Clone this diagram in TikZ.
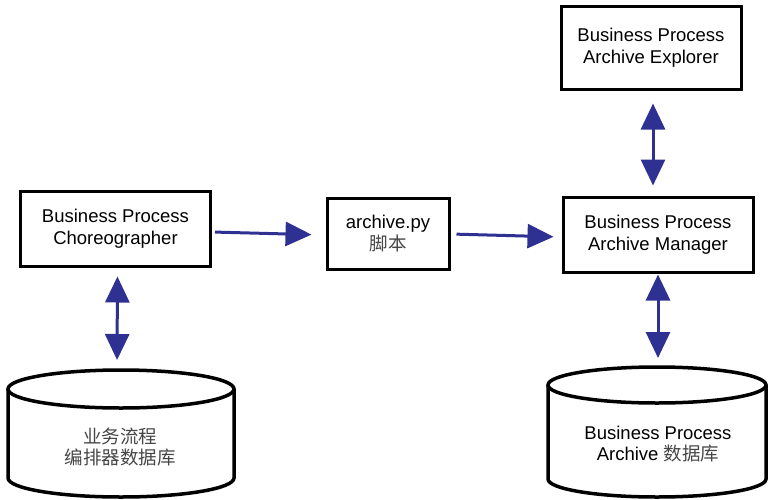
\documentclass[tikz,border=0pt]{standalone}
\usepackage{fontspec}
\setmainfont{Liberation Sans}
\newfontfamily\cjk{Noto Sans CJK SC}
\usetikzlibrary{arrows.meta}
\definecolor{arrblue}{RGB}{46,49,146}
\definecolor{cjkgray}{RGB}{70,70,70}
\tikzset{
  box/.style={draw=black, line width=3pt, fill=white, align=center, inner sep=0pt,
    font=\fontsize{18.5}{21.5}\selectfont},
  dbtext/.style={align=center, font=\fontsize{18.5}{21.5}\selectfont},
  dbshape/.style={draw=black, line width=3.5pt, fill=white},
  arr/.style={draw=arrblue, line width=3pt, -{Triangle[width=24pt,length=26pt]}},
  dblarr/.style={draw=arrblue, line width=3pt, {Triangle[width=24pt,length=26pt]}-{Triangle[width=24pt,length=26pt]}}
}
\newcommand{\zhtext}[1]{{\cjk\color{cjkgray}#1}}
\begin{document}
\begin{tikzpicture}[x=1pt,y=-1pt]
\useasboundingbox (0,0) rectangle (769,499);
% boxes
\node[box, minimum width=190pt, minimum height=75pt] (bpc) at (115.5,228.5) {Business Process\\Choreographer};
\node[box, minimum width=122pt, minimum height=71pt] (arch) at (388,233.5) {archive.py\\\zhtext{脚本}};
\node[box, minimum width=190pt, minimum height=75pt] (bpam) at (658,234.5) {Business Process\\Archive Manager};
\node[box, minimum width=180pt, minimum height=83pt] (bpae) at (651,47.5) {Business Process\\Archive Explorer};
% cylinder 1
\path[dbshape] (8,389) -- (8,478) arc[start angle=180, end angle=0, x radius=113, y radius=19] -- (234,389);
\draw[dbshape] (121,389) ellipse[x radius=113, y radius=19];
\node[dbtext] (db1) at (120,447) {\zhtext{业务流程}\\\zhtext{编排器数据库}};
\coordinate (db1top) at (117,370);
% cylinder 2
\path[dbshape] (548,385) -- (548,479) arc[start angle=180, end angle=0, x radius=109, y radius=18] -- (766,385);
\draw[dbshape] (657,385) ellipse[x radius=109, y radius=18];
\node[dbtext] (db2) at (658,444) {Business Process\\Archive \zhtext{数据库}};
\coordinate (db2top) at (658,367);
% connectors
\draw[arr, shorten <=3pt, shorten >=14pt] ([yshift=-3.5pt]bpc.east) -- ([yshift=-1.5pt]arch.west);
\draw[arr, shorten <=6pt, shorten >=8pt] ([yshift=-0.5pt]arch.east) -- ([yshift=-2.5pt]bpam.west);
\draw[dblarr, shorten <=9pt, shorten >=10pt] ([xshift=2pt]bpc.south) -- (db1top);
\draw[dblarr, shorten <=13pt, shorten >=10pt] ([xshift=2pt]bpae.south) -- ([xshift=-5pt]bpam.north);
\draw[dblarr, shorten <=1pt, shorten >=9pt] (bpam.south) -- (db2top);
\end{tikzpicture}
\end{document}
